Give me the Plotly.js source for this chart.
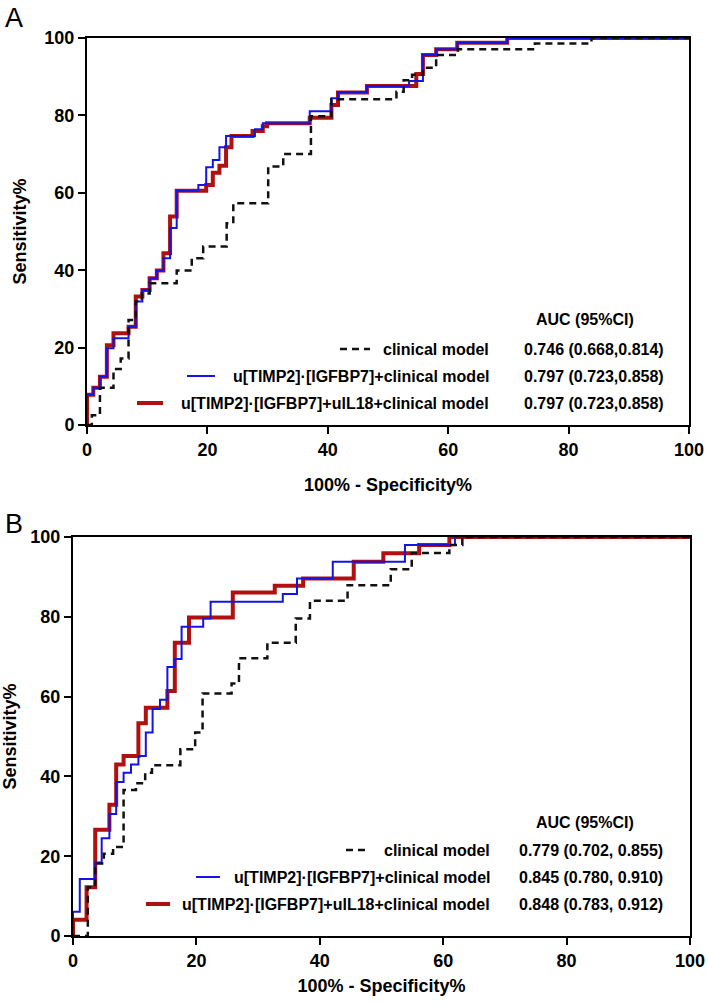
<!DOCTYPE html>
<html>
<head>
<meta charset="utf-8">
<script src="https://cdn.plot.ly/plotly-3.0.1.min.js"></script>
<style>
  html, body { margin: 0; padding: 0; background: #fff; }
  #plot { width: 708px; height: 1004px; }
</style>
</head>
<body>
<div id="plot"></div>
<script>
// ROC step points (100% - Specificity%, Sensitivity%), panel A
var clinA_x = [0, 0.8, 2.15, 4.4, 5.6, 6.9, 8.1, 9.1, 10.4, 14.9, 17.4, 19.3, 23.2, 24.3, 30.1, 32.6, 37.2, 40.6, 51.4, 52.6, 54.0, 55.8, 58.0, 61.6, 74.4, 83.8, 100];
var clinA_y = [0, 2.5, 9.6, 14.5, 17.2, 27.1, 32.0, 34.0, 36.6, 39.9, 43.1, 46.1, 52.1, 57.3, 66.8, 70.0, 79.8, 84.2, 86.1, 89.1, 90.5, 92.3, 95.6, 97.1, 98.6, 100, 100];

var timpA_x = [0, 0, 1.05, 2.15, 3.3, 4.4, 6.9, 8.1, 9.2, 10.4, 11.6, 12.7, 13.8, 14.9, 18.5, 19.8, 20.9, 22.0, 23.1, 27.9, 29.2, 37.0, 40.6, 41.7, 46.5, 53.5, 55.8, 58.0, 61.5, 69.8, 100];
var timpA_y = [0, 7.8, 9.6, 12.5, 19.8, 22.4, 25.4, 31.9, 34.9, 37.9, 39.9, 43.1, 50.9, 60.5, 62.0, 66.6, 68.5, 71.8, 74.7, 76.4, 78.0, 81.1, 84.4, 86.0, 87.6, 88.9, 95.6, 97.1, 98.8, 100, 100];

var il18A_x = [0, 0, 1.05, 2.15, 3.3, 4.4, 6.9, 8.1, 9.2, 10.4, 11.6, 12.7, 13.8, 14.9, 19.8, 20.9, 22.0, 23.1, 24.0, 27.5, 29.2, 29.9, 37.0, 40.6, 41.7, 46.5, 54.7, 55.8, 58.0, 61.5, 69.8, 100];
var il18A_y = [0, 7.8, 9.6, 12.5, 20.6, 23.7, 25.4, 33.2, 34.9, 37.9, 39.9, 44.4, 53.9, 60.5, 62.0, 65.2, 67.0, 71.8, 74.7, 76.0, 77.2, 78.0, 79.4, 82.7, 85.9, 87.6, 90.7, 95.6, 97.1, 98.8, 100, 100];

// panel B
var clinB_x = [0, 2.4, 3.6, 5.0, 6.5, 8.2, 10.2, 11.7, 12.8, 17.4, 19.8, 21.0, 25.7, 26.9, 31.5, 36.1, 38.4, 44.5, 51.5, 54.9, 61.0, 63.1, 100];
var clinB_y = [0, 12.2, 18.2, 20.6, 22.3, 36.6, 38.3, 40.9, 42.8, 46.8, 51.0, 60.8, 63.3, 69.6, 73.5, 79.6, 84.0, 87.9, 91.9, 96.0, 98.0, 100, 100];

var timpB_x = [0, 0, 1.1, 3.6, 4.65, 5.9, 7.0, 8.2, 9.4, 10.6, 11.8, 12.9, 14.1, 15.3, 16.5, 17.6, 21.1, 22.3, 34.0, 36.3, 42.1, 53.8, 61.9, 100];
var timpB_y = [0, 6.1, 14.3, 18.4, 24.5, 30.6, 38.6, 40.9, 43.0, 45.1, 51.0, 56.9, 59.2, 67.4, 69.4, 77.5, 79.6, 83.8, 85.7, 89.6, 93.8, 98.0, 100, 100];

var il18B_x = [0, 0, 2.2, 3.6, 5.9, 7.0, 8.2, 10.6, 11.8, 15.3, 16.5, 18.8, 25.9, 32.7, 37.3, 45.5, 50.3, 56.1, 61.0, 100];
var il18B_y = [0, 4.1, 12.2, 26.6, 32.9, 43.0, 45.1, 53.3, 57.2, 61.4, 73.5, 79.8, 86.1, 87.8, 89.6, 93.8, 95.9, 98.0, 100, 100];

var seriesNames = ["clinical model", "u[TIMP2]\u00b7[IGFBP7]+clinical model", "u[TIMP2]\u00b7[IGFBP7]+ulL18+clinical model"];
var aucA = ["0.746 (0.668,0.814)", "0.797 (0.723,0.858)", "0.797 (0.723,0.858)"];
var aucB = ["0.779 (0.702, 0.855)", "0.845 (0.780, 0.910)", "0.848 (0.783, 0.912)"];
var tickVals = [0, 20, 40, 60, 80, 100];

var FONT = "Liberation Sans, Arial, Helvetica, sans-serif";
var W = 708, H = 1004;
function px(x) { return x / W; }
function py(y) { return 1 - y / H; }

var blue = "#1414e6", red = "#b01010", black = "#111111";

function trace(x, y, color, width, dash, xa, ya) {
  return {
    x: x, y: y, type: "scatter", mode: "lines",
    line: { shape: "hv", color: color, width: width, dash: dash || "solid" },
    xaxis: xa, yaxis: ya, hoverinfo: "skip"
  };
}

var data = [
  trace(il18A_x, il18A_y, red, 4, null, "x", "y"),
  trace(timpA_x, timpA_y, blue, 2, null, "x", "y"),
  trace(clinA_x, clinA_y, black, 2.5, "7px,5px", "x", "y"),
  trace(il18B_x, il18B_y, red, 4, null, "x2", "y2"),
  trace(timpB_x, timpB_y, blue, 2, null, "x2", "y2"),
  trace(clinB_x, clinB_y, black, 2.5, "7px,5px", "x2", "y2")
];

function axis(domain, title, standoff) {
  return {
    domain: domain, range: [0, 100], tickvals: tickVals,
    showline: true, linewidth: 2, linecolor: "black", mirror: true,
    ticks: "outside", ticklen: 7, tickwidth: 2, tickcolor: "black",
    showgrid: false, zeroline: false, layer: "below traces",
    tickfont: { family: FONT, size: 18, color: "black", weight: 700 },
    title: { text: title, standoff: standoff, font: { family: FONT, size: 18, color: "black", weight: 700 } },
    fixedrange: true
  };
}

var annotations = [];
var shapes = [];
var LEG = { family: FONT, size: 16, color: "black", weight: 700 };

function panelLegend(headerY, rowYs, names, aucs, nameRight, valLeft, headerX, samples) {
  annotations.push({ xref: "paper", yref: "paper", x: px(headerX), y: py(headerY), xanchor: "center", yanchor: "middle",
    text: "AUC (95%CI)", showarrow: false, font: LEG });
  for (var i = 0; i < names.length; i++) {
    annotations.push({ xref: "paper", yref: "paper", x: px(nameRight), y: py(rowYs[i]), xanchor: "right", yanchor: "middle",
      text: names[i], showarrow: false, font: LEG });
    annotations.push({ xref: "paper", yref: "paper", x: px(valLeft), y: py(rowYs[i]), xanchor: "left", yanchor: "middle",
      text: aucs[i], showarrow: false, font: LEG });
    var s = samples[i];
    shapes.push({ type: "line", xref: "paper", yref: "paper", x0: px(s[0]), x1: px(s[1]), y0: py(rowYs[i]), y1: py(rowYs[i]),
      line: { color: s[2], width: s[3], dash: s[4] || "solid" } });
  }
}

panelLegend(320, [349, 376, 403], seriesNames, aucA, 491, 522, 585,
  [[340, 370, black, 2.5, "7px,5px"], [187, 215, blue, 2], [137, 163, red, 4]]);
panelLegend(822, [850, 877, 904], seriesNames, aucB, 492, 517, 585,
  [[346, 370, black, 2.5, "7px,5px"], [196, 220, blue, 2], [146, 170, red, 4]]);

annotations.push({ xref: "paper", yref: "paper", x: px(3), y: py(1), xanchor: "left", yanchor: "top",
  text: "A", showarrow: false, font: { family: FONT, size: 27, color: "black" } });
annotations.push({ xref: "paper", yref: "paper", x: px(3), y: py(507), xanchor: "left", yanchor: "top",
  text: "B", showarrow: false, font: { family: FONT, size: 27, color: "black" } });

var layout = {
  width: W, height: H,
  margin: { l: 0, r: 0, t: 0, b: 0 },
  paper_bgcolor: "white", plot_bgcolor: "white",
  showlegend: false,
  xaxis: axis([px(87), px(689)], "100% - Specificity%", 20),
  yaxis: axis([py(425), py(38)], "Sensitivity%", 13),
  xaxis2: axis([px(73), px(690)], "100% - Specificity%", 10),
  yaxis2: axis([py(936), py(537)], "Sensitivity%", 13),
  annotations: annotations,
  shapes: shapes
};
layout.xaxis.anchor = "y";
layout.yaxis.anchor = "x";
layout.xaxis2.anchor = "y2";
layout.yaxis2.anchor = "x2";

Plotly.newPlot("plot", data, layout, { displayModeBar: false, staticPlot: true });
</script>
</body>
</html>
